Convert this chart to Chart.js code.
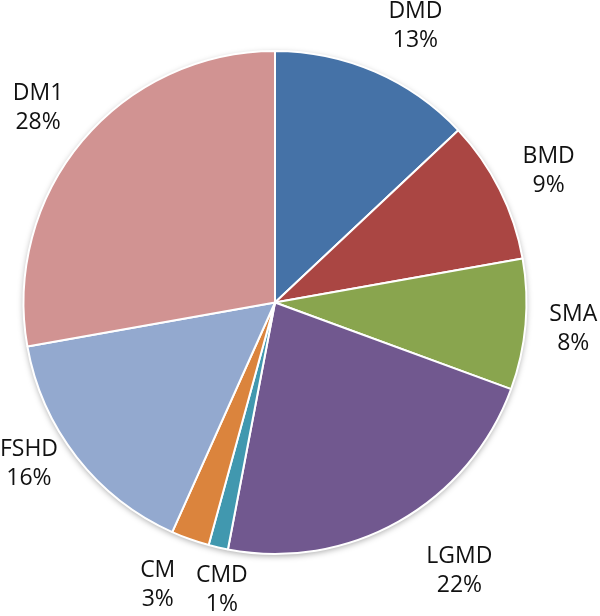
<!DOCTYPE html>
<html>
<head>
<meta charset="utf-8">
<script src="https://cdn.jsdelivr.net/npm/chart.js@4/dist/chart.umd.min.js"></script>
<style>
  html, body { margin: 0; padding: 0; background: #fff; }
  #wrap { width: 600px; height: 616px; }
</style>
</head>
<body>
<div id="wrap"><canvas id="pie"></canvas></div>
<script>
// dados (fatias em sentido horario a partir do topo)
const categories = ['DMD', 'BMD', 'SMA', 'LGMD', 'CMD', 'CM', 'FSHD', 'DM1'];
const shares = [13.0, 9.2, 8.4, 22.4, 1.25, 2.45, 15.5, 27.8];
const shareLabels = ['13%', '9%', '8%', '22%', '1%', '3%', '16%', '28%'];
const sliceColors = ['#4572A7', '#AA4643', '#89A54E', '#71588F', '#4198AF', '#DB843D', '#93A9CF', '#D19392'];

// sombra suave atras da pizza + rotulos externos
const outsideLabels = {
    id: 'outsideLabels',
    beforeDatasetsDraw(chart) {
        const ctx = chart.ctx;
        const a0 = chart.getDatasetMeta(0).data[0];
        if (!a0) return;
        ctx.save();
        ctx.beginPath();
        ctx.arc(a0.x, a0.y, a0.outerRadius, 0, Math.PI * 2);
        ctx.fillStyle = '#ffffff';
        ctx.shadowColor = 'rgba(0,0,0,0.35)';
        ctx.shadowBlur = 6;
        ctx.shadowOffsetY = 2;
        ctx.fill();
        ctx.restore();
    },
    afterDatasetsDraw(chart, args, opts) {
        const ctx = chart.ctx;
        const arcs = chart.getDatasetMeta(0).data;
        ctx.save();
        ctx.font = '23px "Open Sans", "Liberation Sans", sans-serif';
        ctx.fillStyle = '#111';
        ctx.textAlign = 'center';
        ctx.textBaseline = 'middle';
        arcs.forEach((arc, i) => {
            const mid = (arc.startAngle + arc.endAngle) / 2 + (opts.nudge[i] || 0);
            const r = arc.outerRadius + opts.gap[i];
            const x = arc.x + Math.cos(mid) * r;
            const y = arc.y + Math.sin(mid) * r;
            ctx.fillText(categories[i], x, y - 14.5);
            ctx.fillText(shareLabels[i], x, y + 14.5);
        });
        ctx.restore();
    }
};

new Chart(document.getElementById('pie'), {
    type: 'pie',
    data: {
        labels: categories,
        datasets: [{
            data: shares,
            backgroundColor: sliceColors,
            borderColor: '#ffffff',
            borderWidth: 2
        }]
    },
    options: {
        responsive: true,
        maintainAspectRatio: false,
        animation: false,
        layout: { padding: { left: 22, right: 72, top: 50, bottom: 61 } },
        plugins: {
            legend: { display: false },
            tooltip: { enabled: false },
            outsideLabels: {
                gap: [59, 52, 48, 74, 41, 54, 43, 55],
                nudge: [0.061, 0.018, 0.002, -0.087, -0.045, 0.05, 0.081, -0.01]
            }
        }
    },
    plugins: [outsideLabels]
});
</script>
</body>
</html>
